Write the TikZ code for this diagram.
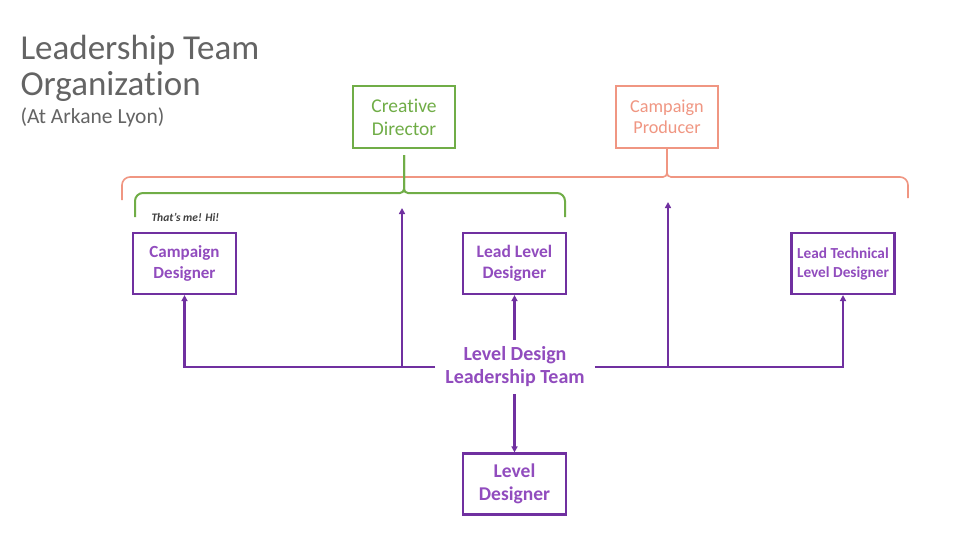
\documentclass[tikz,border=0pt]{standalone}
\usepackage{fontspec}
\setmainfont{Carlito}[Ligatures=NoCommon]
\usetikzlibrary{arrows.meta}
\definecolor{cdgreen}{RGB}{112,173,71}
\definecolor{cpsalmon}{RGB}{240,150,130}
\definecolor{ldpurple}{RGB}{112,48,160}
\definecolor{ldtext}{RGB}{145,76,190}
\definecolor{titlegray}{RGB}{100,100,100}
\begin{document}
\begin{tikzpicture}[x=1pt, y=-1pt,
    greenbox/.style={draw=cdgreen, line width=2pt, minimum width=102pt, minimum height=62pt, align=center, text=cdgreen},
    salmonbox/.style={draw=cpsalmon, line width=1.8pt, minimum width=102pt, minimum height=62pt, align=center, text=cpsalmon},
    purplebox/.style={draw=ldpurple, line width=2.2pt, minimum width=103pt, minimum height=61pt, align=center, text=ldtext, font=\fontsize{16}{21}\selectfont\bfseries},
    purplearrow/.style={draw=ldpurple, line width=2.4pt, -{Triangle[length=6pt,width=6pt]}},
    purpleline/.style={draw=ldpurple, line width=2.4pt}]
        \useasboundingbox[fill=white](0, 0) rectangle (960, 549);
        %%Title
        \node[anchor=base west, text=titlegray, font=\fontsize{35}{36}\selectfont] (title1) at(17, 59){Leadership Team};
        \node[anchor=base west, text=titlegray, font=\fontsize{35}{36}\selectfont] (title2) at(17, 95){Organization};
        \node[anchor=base west, text=titlegray, font=\fontsize{21.5}{24}\selectfont] (title3) at(17, 123){(At Arkane Lyon)};

        %%Top
        \node[greenbox, font=\fontsize{19.5}{23}\selectfont] (cd) at(404, 117){Creative\\Director};
        \node[salmonbox, font=\fontsize{18.2}{21}\selectfont] (cp) at(667, 117){Campaign\\Producer};
        \coordinate (cdstem) at(404, 155);

        %%Braces
        \draw[cpsalmon, line width=1.6pt](122, 200) [rounded corners=8pt] -- (122, 177) -- (400, 177) [rounded corners=4pt] -- (667, 177) -- (cp.south);
        \draw[cpsalmon, line width=1.6pt](908, 198) [rounded corners=8pt] -- (908, 177) -- (800, 177) [rounded corners=4pt] -- (667, 177) -- (cp.south);
        \draw[cdgreen, line width=2pt](135, 217) [rounded corners=8pt] -- (135, 193) -- (300, 193) [rounded corners=4pt] -- (404, 193) -- (cdstem);
        \draw[cdgreen, line width=2pt](565, 217) [rounded corners=8pt] -- (565, 193) -- (480, 193) [rounded corners=4pt] -- (404, 193) -- (cdstem);

        %%Leads
        \node[anchor=base west, text=black!75, font=\fontsize{11.5}{12}\selectfont\bfseries\itshape] (me) at(148, 221){That’s me! Hi!};
        \node[purplebox, font=\fontsize{17}{21}\selectfont\bfseries] (cdes) at(184.5, 263.5){Campaign\\Designer};
        \node[purplebox, font=\fontsize{17.5}{21}\selectfont\bfseries] (lld) at(514.5, 263.5){Lead Level\\Designer};
        \node[purplebox, font=\fontsize{15.3}{19}\selectfont\bfseries] (ltld) at(843, 263.5){Lead Technical\\Level Designer};
        \node[purplebox, font=\fontsize{19.5}{23}\selectfont\bfseries] (ld) at(514.5, 484){Level\\Designer};

        %%Team
        \node[align=center, text=ldtext, inner xsep=10pt, inner ysep=7pt, font=\fontsize{20}{23}\selectfont\bfseries] (ldlt) at(515, 367){Level Design\\Leadership Team};
        \coordinate (cdtip) at(402, 208);
        \coordinate (cptip) at(668, 202);
            \draw[purplearrow](ldlt.west) -| (cdes.south);
            \draw[purplearrow](ldlt.west -| cdtip) to (cdtip);
            \draw[purplearrow](ldlt.east) -| (ltld.south);
            \draw[purplearrow](ldlt.east -| cptip) to (cptip);
            \draw[purplearrow](ldlt.north -| lld.south) to (lld.south);
            \draw[purplearrow](ldlt.south -| ld.north) to (ld.north);
\end{tikzpicture}
\end{document}
